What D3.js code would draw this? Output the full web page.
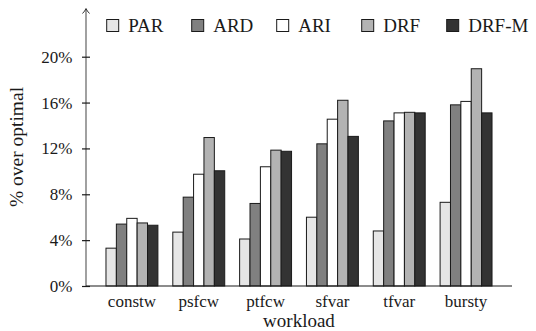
<!DOCTYPE html>
<html>
<head>
    <meta charset="utf-8">
    <title>workload chart</title>
    <script src="https://cdn.jsdelivr.net/npm/d3@7"></script>
    <style>
        body { margin: 0; background: #fff; }
        text { font-family: "Liberation Serif", "Times New Roman", serif; fill: #1a1a1a; }
    </style>
</head>
<body>
<script type="text/javascript">
    var workloads = ["constw", "psfcw", "ptfcw", "sfvar", "tfvar", "bursty"];
    var schemes = ["PAR", "ARD", "ARI", "DRF", "DRF-M"];
    var PAR   = [3.3, 4.7, 4.1, 6.0, 4.8, 7.3];
    var ARD   = [5.4, 7.75, 7.2, 12.4, 14.4, 15.8];
    var ARI   = [5.9, 9.75, 10.4, 14.55, 15.1, 16.1];
    var DRF   = [5.5, 12.95, 11.85, 16.2, 15.15, 18.95];
    var DRFM  = [5.3, 10.05, 11.75, 13.05, 15.1, 15.1];
    var yTicks = [0, 4, 8, 12, 16, 20];
    var fills = ["#e6e6e6", "#808080", "#ffffff", "#b3b3b3", "#333333"];

    var series = [PAR, ARD, ARI, DRF, DRFM];
    var _width = 536, _height = 331;
    var serif = "'Liberation Serif', serif";

    var svg = d3.select("body").append("svg")
        .attr("width", _width)
        .attr("height", _height);

    var x = d3.scaleBand().domain(workloads).range([86, 512])
        .paddingInner(0.223).paddingOuter(0.299);
    var xs = d3.scaleBand().domain(schemes).range([0, x.bandwidth()]);
    var y = d3.scaleLinear().domain([0, 20]).range([286, 56.7]);

    // bars
    var rows = [];
    workloads.forEach(function (w, i) {
        schemes.forEach(function (s, j) {
            rows.push({w: w, s: s, v: series[j][i], c: fills[j]});
        });
    });
    svg.append("g").selectAll("rect").data(rows).enter().append("rect")
        .attr("x", function (d) { return x(d.w) + xs(d.s); })
        .attr("y", function (d) { return y(d.v); })
        .attr("width", xs.bandwidth())
        .attr("height", function (d) { return y(0) - y(d.v); })
        .attr("fill", function (d) { return d.c; })
        .attr("stroke", "#1a1a1a")
        .attr("stroke-width", 1);

    // y axis (gray line with arrow)
    svg.append("line")
        .attr("x1", 86).attr("x2", 86)
        .attr("y1", 286).attr("y2", 9)
        .attr("stroke", "#6e6e6e").attr("stroke-width", 1.3);
    svg.append("path")
        .attr("d", "M82.5,13.5 Q85,11 86,8.5 Q87,11 89.5,13.5")
        .attr("fill", "none")
        .attr("stroke", "#333").attr("stroke-width", 1);

    var yAxis = d3.axisLeft(y).tickValues(yTicks)
        .tickSize(4).tickPadding(9)
        .tickFormat(function (d) { return d + "%"; });
    var gy = svg.append("g").attr("transform", "translate(86,0)").call(yAxis);
    gy.select(".domain").remove();
    gy.selectAll(".tick line").attr("x2", 4).attr("x1", -4)
        .attr("stroke", "#1a1a1a").attr("stroke-width", 1.2);
    gy.selectAll(".tick text")
        .attr("x", -13.5)
        .style("font-family", serif)
        .style("font-size", "17px").attr("fill", "#1a1a1a");

    // x axis
    var xAxis = d3.axisBottom(x).tickSize(0).tickPadding(9);
    var gx = svg.append("g").attr("transform", "translate(0,286)").call(xAxis);
    gx.select(".domain").attr("d", "M86,0H512")
        .attr("stroke", "#1a1a1a").attr("stroke-width", 1.2);
    gx.selectAll(".tick text")
        .style("font-family", serif)
        .style("font-size", "17px").attr("fill", "#1a1a1a");

    // axis titles
    svg.append("text")
        .attr("x", 299).attr("y", 327)
        .attr("text-anchor", "middle")
        .style("font-size", "19px")
        .text("workload");
    svg.append("text")
        .attr("transform", "translate(23,147) rotate(-90)")
        .attr("text-anchor", "middle")
        .style("font-size", "19.5px")
        .text("% over optimal");

    // legend
    var lg = svg.append("g").selectAll("g").data(schemes).enter().append("g")
        .attr("transform", function (d, i) { return "translate(" + (106.7 + i * 85) + ",19.5)"; });
    lg.append("rect")
        .attr("width", 12).attr("height", 12)
        .attr("fill", function (d, i) { return fills[i]; })
        .attr("stroke", "#1a1a1a").attr("stroke-width", 1);
    lg.append("text")
        .attr("x", 21.5).attr("y", 12.2)
        .style("font-size", "19px")
        .text(function (d) { return d; });
</script>
</body>
</html>
